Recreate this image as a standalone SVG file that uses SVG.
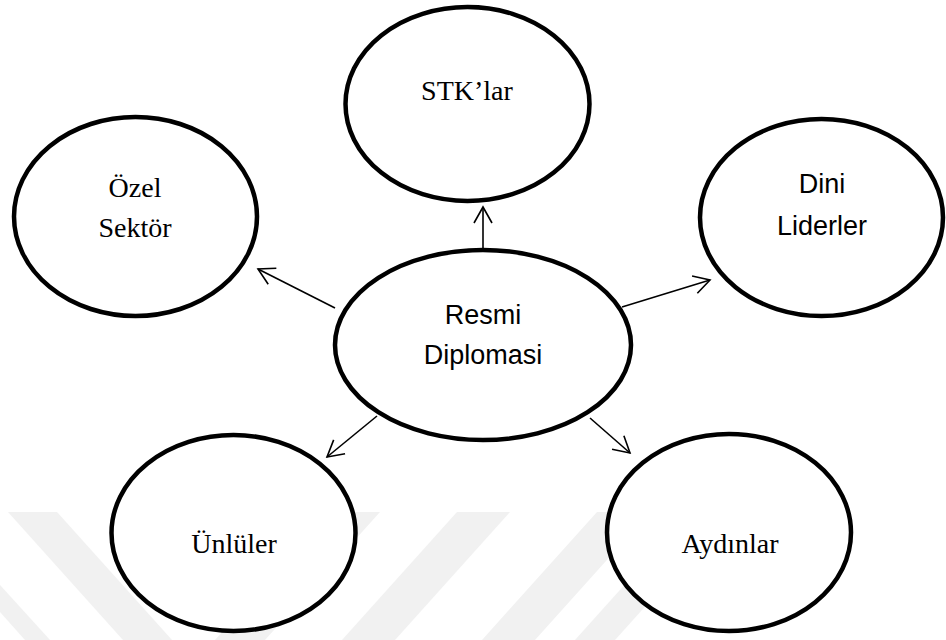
<svg xmlns="http://www.w3.org/2000/svg" width="946" height="640" viewBox="0 0 946 640">
<style>
.node{fill:#fff;stroke:#000;stroke-width:4.5}
.serif{font-family:"Liberation Serif","Times New Roman",serif;font-size:28px;fill:#000;text-anchor:middle}
.sans{font-family:"Liberation Sans",Arial,sans-serif;font-size:27px;fill:#000;text-anchor:middle}
.edge{stroke:#000;stroke-width:1.6;fill:none;marker-end:url(#arr)}
.wm{fill:#f1f1f1}
</style>
<defs>
<marker id="arr" viewBox="-18 -11 20 22" markerWidth="20" markerHeight="22" refX="0" refY="0" orient="auto" markerUnits="userSpaceOnUse">
<path d="M-16,-9 L0,0 L-16,9" fill="none" stroke="#000" stroke-width="1.6"/>
</marker>
</defs>
<rect width="946" height="640" fill="#fff"/>
<g id="watermark">
<polygon class="wm" points="8,512 57,512 172,640 123,640"/>
<polygon class="wm" points="0,585 50,640 25,640 0,612"/>
<polygon class="wm" points="330,512 380,512 265,640 215,640"/>
<polygon class="wm" points="457,512 510,512 395,640 342,640"/>
<polygon class="wm" points="597,512 650,512 535,640 482,640"/>
<polygon class="wm" points="690,512 730,512 615,640 575,640"/>
</g>
<g id="connectors">
<line class="edge" x1="483" y1="248" x2="483" y2="207"/>
<line class="edge" x1="335" y1="308" x2="258" y2="269"/>
<line class="edge" x1="622" y1="307" x2="710" y2="280"/>
<line class="edge" x1="377" y1="416" x2="327" y2="457"/>
<line class="edge" x1="590" y1="418" x2="630" y2="453"/>
</g>
<g id="node-stk">
<ellipse class="node" cx="467.5" cy="104" rx="122" ry="97"/>
<text class="serif" x="467" y="100">STK’lar</text>
</g>
<g id="node-ozel">
<ellipse class="node" cx="135.5" cy="216.5" rx="121.5" ry="99.5"/>
<text class="serif" x="135" y="197">Özel</text>
<text class="serif" x="135" y="237">Sektör</text>
</g>
<g id="node-dini">
<ellipse class="node" cx="821.5" cy="217.5" rx="121.5" ry="98.5"/>
<text class="sans" x="822" y="193">Dini</text>
<text class="sans" x="822" y="235">Liderler</text>
</g>
<g id="node-resmi">
<ellipse class="node" cx="483" cy="345" rx="148" ry="95"/>
<text class="sans" x="483" y="324">Resmi</text>
<text class="sans" x="483" y="364">Diplomasi</text>
</g>
<g id="node-unluler">
<ellipse class="node" cx="233.5" cy="533" rx="122" ry="98"/>
<text class="serif" x="234" y="553">Ünlüler</text>
</g>
<g id="node-aydinlar">
<ellipse class="node" cx="729" cy="532.5" rx="122" ry="98.5"/>
<text class="serif" x="730" y="553">Aydınlar</text>
</g>
</svg>
